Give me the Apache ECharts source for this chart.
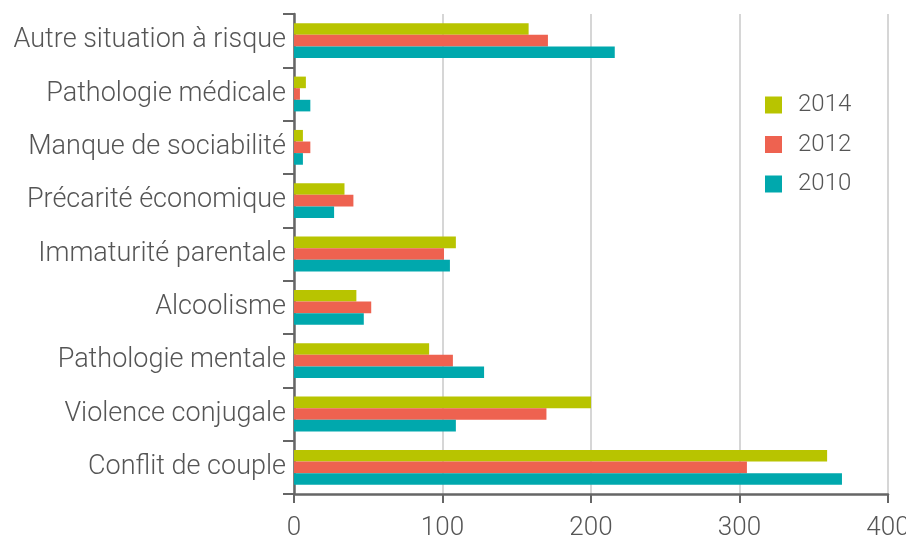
<!DOCTYPE html>
<html>
<head>
<meta charset="utf-8">
<script src="https://cdn.jsdelivr.net/npm/echarts@6/dist/echarts.min.js"></script>
<style>
  html, body { margin: 0; padding: 0; background: #fff; overflow: hidden; }
  #chart { width: 906px; height: 536px; }
</style>
</head>
<body>
<div id="chart"></div>
<script>
  // catégories, du bas vers le haut
  const categories = [
    'Conflit de couple',
    'Violence conjugale',
    'Pathologie mentale',
    'Alcoolisme',
    'Immaturité parentale',
    'Précarité économique',
    'Manque de sociabilité',
    'Pathologie médicale',
    'Autre situation à risque'
  ]
  const values2014 = [359, 200, 91, 42, 109, 34, 6, 8, 158]
  const values2012 = [305, 170, 107, 52, 101, 40, 11, 4, 171]
  const values2010 = [369, 109, 128, 47, 105, 27, 6, 11, 216]
  const xTicks = [0, 100, 200, 300, 400]

  const textColor = '#555555'
  const axisColor = '#666666'
  const font = 'Roboto, "DejaVu Sans", sans-serif'

  const chart = echarts.init(document.getElementById('chart'))

  const option = {
    animation: false,
    textStyle: { fontFamily: font },
    // outerBoundsMode none : les libellés peuvent déborder du cadre comme sur l'original
    grid: { left: 294, right: 18, top: 14, bottom: 42, containLabel: false, outerBoundsMode: 'none' },
    legend: {
      data: ['2014', '2012', '2010'],
      orient: 'vertical',
      left: 765,
      top: 93,
      padding: 0,
      icon: 'rect',
      itemWidth: 17,
      itemHeight: 17,
      itemGap: 15.5,
      textStyle: { fontSize: 24, fontWeight: 300, color: textColor, fontFamily: font, padding: [0, 0, 0, 11] }
    },
    xAxis: {
      type: 'value',
      min: xTicks[0],
      max: xTicks[xTicks.length - 1],
      interval: 100,
      axisLine: { show: true, lineStyle: { color: axisColor, width: 2.5 } },
      axisTick: { show: true, length: 9, lineStyle: { color: axisColor, width: 2 } },
      splitLine: { show: true, lineStyle: { color: '#c8c8c8', width: 1.5 } },
      axisLabel: { fontSize: 26, fontWeight: 300, color: textColor, margin: 21, fontFamily: font }
    },
    yAxis: {
      type: 'category',
      data: categories,
      axisLine: { show: true, lineStyle: { color: axisColor, width: 2.5 } },
      axisTick: { show: true, length: 11, lineStyle: { color: axisColor, width: 2 } },
      axisLabel: { fontSize: 27, fontWeight: 300, color: textColor, margin: 8, fontFamily: font }
    },
    // la première série est dessinée en haut de chaque groupe
    series: [
      { name: '2014', type: 'bar', data: values2014, barWidth: 11.6, barGap: '0%', itemStyle: { color: '#b8c400' } },
      { name: '2012', type: 'bar', data: values2012, barWidth: 11.6, barGap: '0%', itemStyle: { color: '#ee6250' } },
      { name: '2010', type: 'bar', data: values2010, barWidth: 11.6, barGap: '0%', itemStyle: { color: '#00a8ad' } }
    ]
  }

  chart.setOption(option)
</script>
</body>
</html>
